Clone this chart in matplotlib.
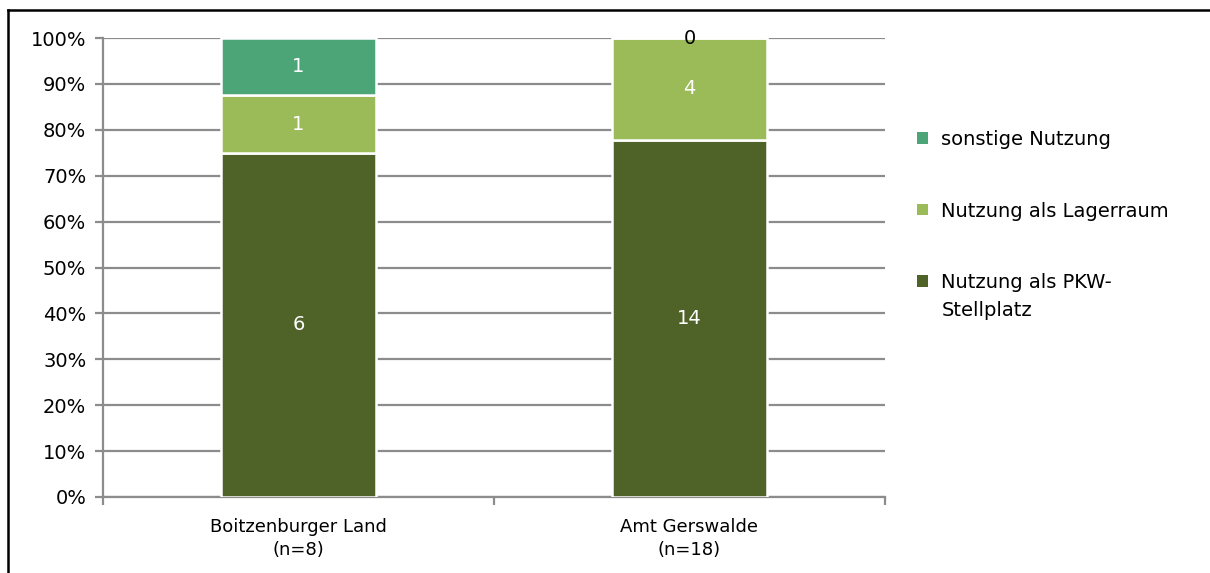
import matplotlib
matplotlib.use("Agg")
import matplotlib.pyplot as plt
from matplotlib.patches import Patch, Rectangle
from matplotlib.legend_handler import HandlerPatch
from matplotlib.lines import Line2D
import numpy as np

# Survey data: how garages are used, per municipality
categories = ["Boitzenburger Land\n(n=8)", "Amt Gerswalde\n(n=18)"]
series_names = ["Nutzung als PKW-\nStellplatz", "Nutzung als Lagerraum", "sonstige Nutzung"]
pkw = [6, 14]
lager = [1, 4]
sonstige = [1, 0]
colors = ["#4F6228", "#9BBB59", "#4BA577"]
yticklabels = ["0%", "10%", "20%", "30%", "40%", "50%", "60%", "70%", "80%", "90%", "100%"]

plt.rcParams["font.family"] = ["DejaVu Sans"]
FS = 14

fig = plt.figure(figsize=(12.10, 5.73), dpi=100)
ax = fig.add_axes([103 / 1210, 1 - 497 / 573, (885 - 103) / 1210, (497 - 38) / 573])

counts = np.array([pkw, lager, sonstige], dtype=float)
totals = counts.sum(axis=0)
shares = counts / totals * 100

x = np.arange(len(categories))
bottom = np.zeros(len(categories))
grid_color = "#8C8C8C"
for i, (name, col) in enumerate(zip(series_names, colors)):
    bars = ax.bar(x, shares[i], 0.394, bottom=bottom, color=col,
                  edgecolor="white", linewidth=1.8, zorder=3, label=name)
    for j, b in enumerate(bars):
        val = int(counts[i, j])
        if val > 0:
            ax.text(b.get_x() + b.get_width() / 2, bottom[j] + shares[i, j] / 2, str(val),
                    ha="center", va="center", color="white", fontsize=FS, zorder=4)
        else:
            ax.text(b.get_x() + b.get_width() / 2, bottom[j] + shares[i, j], str(val),
                    ha="center", va="center", color="black", fontsize=FS, zorder=4)
    bottom += shares[i]

ax.set_xlim(-0.5, 1.5)
ax.set_ylim(0, 100)
ax.set_yticks(np.arange(0, 101, 10))
ax.set_yticklabels(yticklabels, fontsize=FS)
ax.yaxis.grid(True, color=grid_color, linewidth=1.6, zorder=0)
ax.set_xticks(x)
ax.set_xticklabels(categories, fontsize=13, linespacing=1.35)
ax.set_xticks([-0.5, 0.5, 1.5], minor=True)
ax.tick_params(axis="x", which="major", length=0, pad=15)
ax.tick_params(axis="x", which="minor", length=6, width=1.6, color=grid_color)
ax.tick_params(axis="y", length=6, width=1.6, color=grid_color, pad=6)
for side in ["top", "right"]:
    ax.spines[side].set_visible(False)
for side in ["left", "bottom"]:
    ax.spines[side].set_color(grid_color)
    ax.spines[side].set_linewidth(1.6)


class FirstLineSquare(HandlerPatch):
    """Square legend key raised to sit beside the first line of a two-line label."""

    def __init__(self, shift, **kw):
        super().__init__(**kw)
        self.shift = shift

    def create_artists(self, legend, orig_handle, xdescent, ydescent, width, height,
                       fontsize, trans):
        p = Rectangle((-xdescent, -ydescent + self.shift), width, height,
                      facecolor=orig_handle.get_facecolor(), edgecolor="none",
                      transform=trans)
        return [p]


handles = [Patch(facecolor=c, edgecolor="none") for c in colors]
leg = fig.legend(handles[::-1], series_names[::-1], loc="upper left",
                 bbox_to_anchor=(917 / 1210, 1 - 130 / 573), frameon=False,
                 fontsize=FS, handlelength=0.55, handleheight=0.55,
                 handletextpad=0.7, labelspacing=2.7, borderpad=0, borderaxespad=0,
                 handler_map={handles[0]: FirstLineSquare(11.5)})
for t in leg.get_texts():
    t.set_linespacing(1.6)

# Outer frame (top and left edges)
fig.add_artist(Line2D([8 / 1210, 1], [1 - 10 / 573, 1 - 10 / 573], color="black", linewidth=1.8))
fig.add_artist(Line2D([8 / 1210, 8 / 1210], [0, 1 - 10 / 573], color="black", linewidth=1.8))

fig.savefig("out.png", dpi=100)
